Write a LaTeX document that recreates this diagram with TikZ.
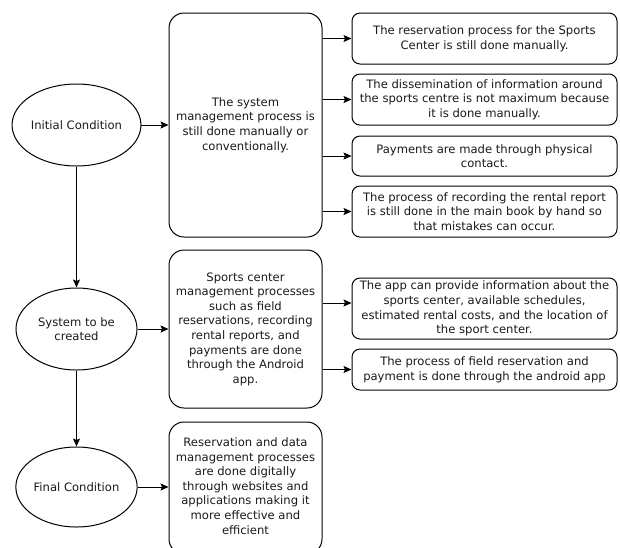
\documentclass[tikz,border=0pt]{standalone}
\usepackage{fontspec}
\setmainfont{DejaVu Sans}
\usetikzlibrary{shapes.geometric,arrows.meta}
\begin{document}
\begin{tikzpicture}[x=1pt,y=-1pt,
  every node/.style={font=\fontsize{11.6}{14.6}\selectfont, text=black!90, align=center},
  cond/.style={ellipse, draw, line width=1pt, minimum width=121pt, minimum height=82pt, inner sep=0pt},
  bigbox/.style={rectangle, draw, line width=1pt, rounded corners=15pt, minimum width=153pt, inner sep=0pt},
  smallbox/.style={rectangle, draw, line width=1pt, rounded corners=8pt, minimum width=265pt, inner sep=0pt},
  arr/.style={line width=1pt, -{Stealth[length=8pt,width=7pt,inset=1.5pt]}}
]
\useasboundingbox (0,0) rectangle (620,547);
\clip (0,0) rectangle (620,547);
\node[cond] (e1) at (76.5,125) {Initial Condition};
\node[cond] (e2) at (76.5,329) {System to be\\created};
\node[cond, minimum height=80pt] (e3) at (76.5,487) {Final Condition};

\node[bigbox, minimum height=224pt] (b1) at (245.5,125) {The system\\management process is\\still done manually or\\conventionally.};
\node[bigbox, minimum height=158pt] (b2) at (245.5,329) {Sports center\\management processes\\such as field\\reservations, recording\\rental reports, and\\payments are done\\through the Android\\app.};
\node[bigbox, minimum height=132pt] (b3) at (245.5,488) {};
\node at (245.5,486) {Reservation and data\\management processes\\are done digitally\\through websites and\\applications making it\\more effective and\\efficient};

\node[smallbox, minimum height=51pt] (r1) at (484.5,38.5) {The reservation process for the Sports\\Center is still done manually.};
\node[smallbox, minimum height=51pt] (r2) at (484.5,99.5) {The dissemination of information around\\the sports centre is not maximum because\\it is done manually.};
\node[smallbox, minimum height=40pt] (r3) at (484.5,156) {Payments are made through physical\\contact.};
\node[smallbox, minimum height=51pt] (r4) at (484.5,211.5) {The process of recording the rental report\\is still done in the main book by hand so\\that mistakes can occur.};
\node[smallbox, minimum height=61pt] (r5) at (484.5,308.5) {The app can provide information about the\\sports center, available schedules,\\estimated rental costs, and the location of\\the sport center.};
\node[smallbox, minimum height=41pt] (r6) at (484.5,369.5) {The process of field reservation and\\payment is done through the android app};

\draw[arr] (e1) -- (b1);
\draw[arr] (e2) -- (b2);
\draw[arr] (e3.east) -- (b3.west |- e3.east);
\draw[arr] (e1) -- (e2);
\draw[arr] (e2) -- (e3);
\draw[arr] (b1.east |- r1.west) -- (r1.west);
\draw[arr] (b1.east |- r2.west) -- (r2.west);
\draw[arr] (b1.east |- r3.west) -- (r3.west);
\draw[arr] (b1.east |- r4.west) -- (r4.west);
\coordinate (k5) at (0,303);
\draw[arr] (b2.east |- k5) -- (r5.west |- k5);
\draw[arr] (b2.east |- r6.west) -- (r6.west);
\end{tikzpicture}
\end{document}
